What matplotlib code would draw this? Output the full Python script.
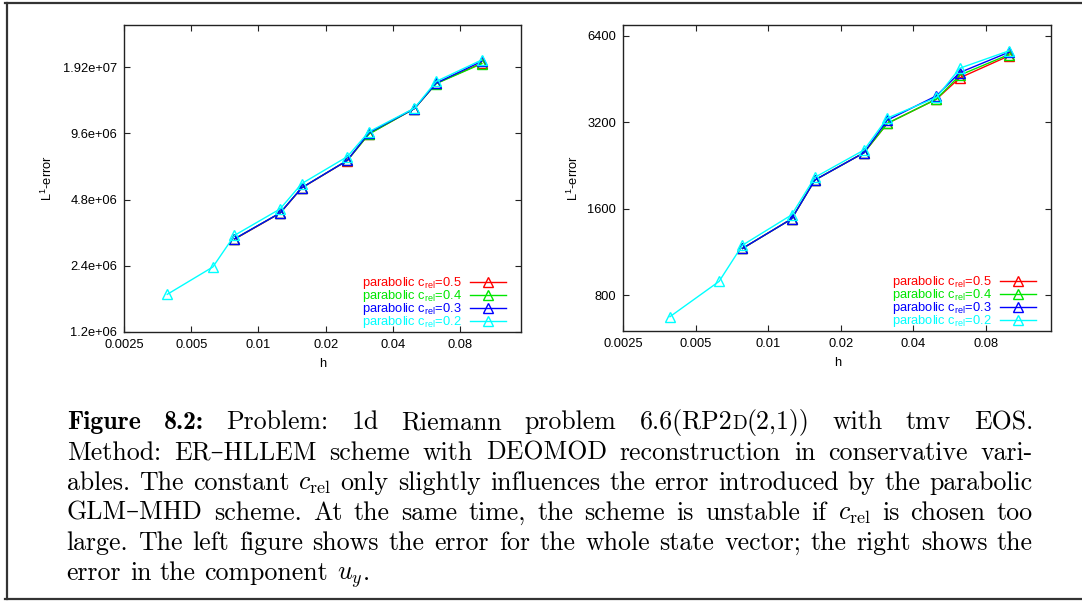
import matplotlib
matplotlib.use('Agg')
import matplotlib.pyplot as plt
from matplotlib.ticker import NullLocator
from matplotlib.lines import Line2D

plt.rcParams['font.family'] = ['Liberation Sans', 'DejaVu Sans']
plt.rcParams['mathtext.default'] = 'regular'

# grid spacing h = 1/N
h_all = [1/256, 1/160, 1/128, 1/80, 1/64, 1/40, 1/32, 1/20, 1/16, 1/10]
h_part = h_all[2:]

labels = ['parabolic c$_{rel}$=0.5', 'parabolic c$_{rel}$=0.4',
          'parabolic c$_{rel}$=0.3', 'parabolic c$_{rel}$=0.2']
colors = ['#ff0000', '#00e600', '#0000ff', '#00ffff']

# left: whole state vector
err_l_05 = [3.17e6, 4.16e6, 5.42e6, 7.22e6, 9.55e6, 1.245e7, 1.620e7, 2.00e7]
err_l_04 = [3.18e6, 4.17e6, 5.43e6, 7.23e6, 9.52e6, 1.245e7, 1.615e7, 1.99e7]
err_l_03 = [3.18e6, 4.17e6, 5.43e6, 7.23e6, 9.66e6, 1.245e7, 1.624e7, 2.04e7]
err_l_02 = [1.78e6, 2.37e6, 3.30e6, 4.35e6, 5.67e6, 7.52e6, 9.76e6, 1.250e7, 1.653e7, 2.07e7]

# right: component u_y
err_r_05 = [1163, 1474, 2014, 2507, 3171, 3853, 4571, 5452]
err_r_04 = [1163, 1474, 2014, 2507, 3171, 3853, 4670, 5510]
err_r_03 = [1163, 1474, 2014, 2507, 3257, 3957, 4770, 5614]
err_r_02 = [673, 893, 1194, 1522, 2058, 2562, 3310, 3905, 4938, 5675]

xticks = [0.0025, 0.005, 0.01, 0.02, 0.04, 0.08]
xticklabels = ['0.0025', '0.005', '0.01', '0.02', '0.04', '0.08']
yticks_l = [1.2e6, 2.4e6, 4.8e6, 9.6e6, 1.92e7]
yticklabels_l = ['1.2e+06', '2.4e+06', '4.8e+06', '9.6e+06', '1.92e+07']
yticks_r = [800, 1600, 3200, 6400]
yticklabels_r = ['800', '1600', '3200', '6400']

W, H = 1082, 601
fig = plt.figure(figsize=(W / 100, H / 100), dpi=100)
FS = 9.3


def panel(rect, series, yticks, yticklabels, ylim, legx, ylabelpad):
    ax = fig.add_axes(rect)
    for (x, y), c, lab in zip(series, colors, labels):
        ax.plot(x, y, color=c, lw=1, marker='^', ms=7, mfc='none',
                mec=c, mew=1, label=lab)
    ax.set_xscale('log')
    ax.set_yscale('log')
    ax.set_xlim(0.0025, 0.15)
    ax.set_ylim(*ylim)
    ax.set_xticks(xticks, xticklabels)
    ax.set_yticks(yticks, yticklabels)
    ax.xaxis.set_minor_locator(NullLocator())
    ax.yaxis.set_minor_locator(NullLocator())
    ax.tick_params(direction='in', top=True, right=True, length=4,
                   width=0.8, labelsize=FS, pad=5, color='#222222')
    for s in ax.spines.values():
        s.set_linewidth(1.0)
        s.set_color('#222222')
    ax.set_xlabel('h', fontsize=FS, labelpad=5)
    ax.set_ylabel('L$^1$-error', fontsize=FS, labelpad=ylabelpad)
    ax.legend(loc='lower right', bbox_to_anchor=(legx, 0.005),
              frameon=False, markerfirst=False, labelcolor='linecolor',
              fontsize=FS, handlelength=2.8, handletextpad=0.6,
              labelspacing=-0.23, borderpad=0, borderaxespad=0)
    return ax


panel([124 / W, 1 - 332 / H, 397 / W, 307.5 / H],
      [(h_part, err_l_05), (h_part, err_l_04), (h_part, err_l_03), (h_all, err_l_02)],
      yticks_l, yticklabels_l, (1.2e6, 3.0e7), 0.9615, 6)
panel([623.3 / W, 1 - 331 / H, 428 / W, 306.3 / H],
      [(h_part, err_r_05), (h_part, err_r_04), (h_part, err_r_03), (h_all, err_r_02)],
      yticks_r, yticklabels_r, (600, 7000), 0.9636, 4.5)

# caption frame
frame_kw = dict(color='#333333', lw=1.6, transform=None)
fig.add_artist(Line2D([5, W], [H - 3, H - 3], **frame_kw))
fig.add_artist(Line2D([6.5, 6.5], [H - 3, H - 599], **frame_kw))
fig.add_artist(Line2D([5, W], [H - 599, H - 599], **frame_kw))

# caption, justified word by word
CFS = 18.6
rm = dict(family=['cmr10', 'DejaVu Serif'], fontsize=CFS)
bf = dict(family=['cmb10', 'DejaVu Serif'], fontsize=CFS)
mt = dict(fontsize=CFS, math_fontfamily='cm')
sc = dict(family=['cmr10', 'DejaVu Serif'], fontsize=CFS * 0.75)

crel = [('$\\mathit{c}_{\\mathrm{rel}}$', mt)]


def W_(s):
    return [(s, rm)]


lines = [
    [[('Figure', bf)], [('8.2:', bf)]] + [W_(s) for s in
        ['Problem:', '1d', 'Riemann', 'problem']] +
    [[('6.6(RP2', rm), ('D', sc), ('(2,1))', rm)]] +
    [W_(s) for s in ['with', 'tmv', 'EOS.']],
    [W_(s) for s in ['Method:', 'ER\u2013HLLEM', 'scheme', 'with', 'DEOMOD',
                     'reconstruction', 'in', 'conservative', 'vari-']],
    [W_(s) for s in ['ables.', 'The', 'constant']] + [crel] +
    [W_(s) for s in ['only', 'slightly', 'influences', 'the', 'error',
                     'introduced', 'by', 'the', 'parabolic']],
    [W_(s) for s in ['GLM\u2013MHD', 'scheme.', 'At', 'the', 'same', 'time,',
                     'the', 'scheme', 'is', 'unstable', 'if']] + [crel] +
    [W_(s) for s in ['is', 'chosen', 'too']],
    [W_(s) for s in ['large.', 'The', 'left', 'figure', 'shows', 'the', 'error',
                     'for', 'the', 'whole', 'state', 'vector;', 'the', 'right',
                     'shows', 'the']],
    [W_(s) for s in ['error', 'in', 'the', 'component']] +
    [[('$\\mathit{u}_{\\mathit{y}}$', mt), ('.', rm)]],
]
baselines = [429, 460, 490, 520, 550, 580]
x0, x1 = 66.7, 1033

renderer = fig.canvas.get_renderer()
for i, (words, yb) in enumerate(zip(lines, baselines)):
    items = []
    for w in words:
        pcs = []
        for s, kw in w:
            t = fig.text(0, 0, s, ha='left', va='baseline', **kw)
            pcs.append((t, t.get_window_extent(renderer).width))
        items.append(pcs)
    widths = [sum(p[1] for p in pcs) for pcs in items]
    if i < len(lines) - 1:
        gap = (x1 - x0 - sum(widths)) / (len(items) - 1)
    else:
        gap = 0.333 * CFS * 100 / 72
    x = x0
    for pcs in items:
        for t, pw in pcs:
            t.set_position((x / W, 1 - yb / H))
            x += pw
        x += gap

fig.savefig('out.png', dpi=100)
